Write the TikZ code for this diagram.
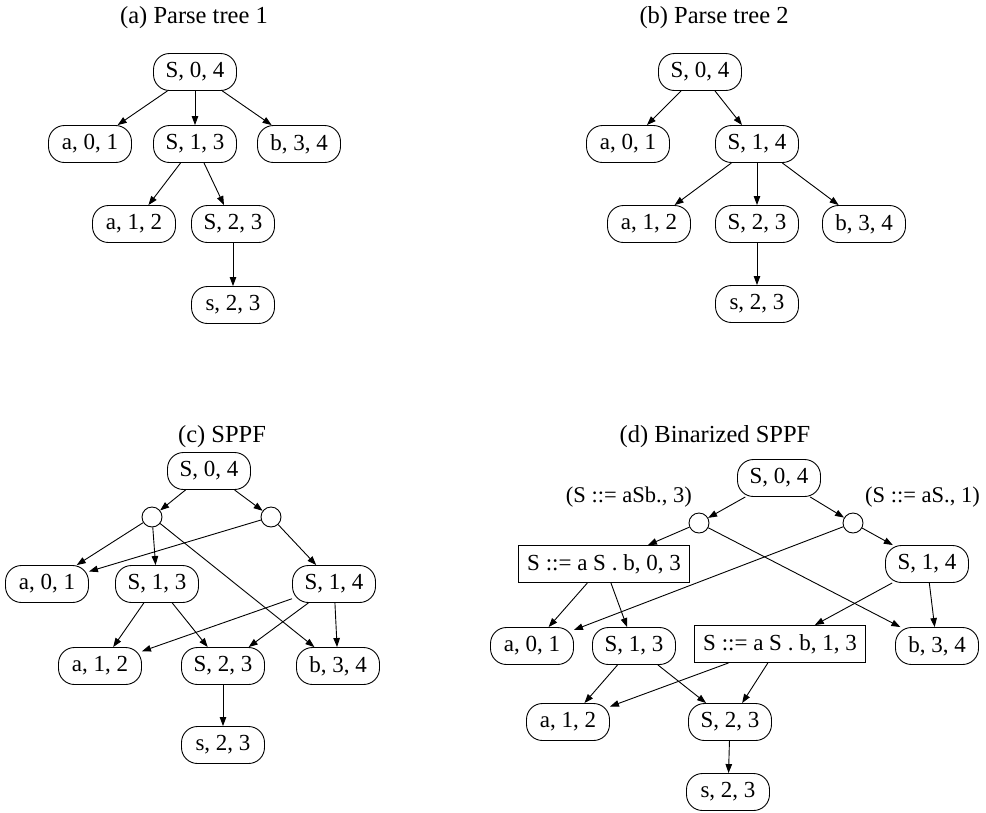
\documentclass[tikz,border=0pt]{standalone}
\usepackage{fontspec}
\setmainfont{Liberation Serif}
\usetikzlibrary{arrows.meta}
\tikzset{
  every node/.style={font=\fontsize{23}{27}\selectfont},
  rnode/.style={draw, rounded corners=16pt, minimum width=83pt, minimum height=37pt, inner sep=2pt, line width=0.9pt},
  bnode/.style={draw, minimum height=37pt, inner xsep=9pt, inner ysep=2pt, line width=0.9pt},
  cnode/.style={draw, circle, minimum size=20pt, inner sep=0pt, line width=0.9pt},
  ttl/.style={font=\fontsize{24.5}{28}\selectfont},
  lbl/.style={inner sep=0pt, anchor=east, font=\fontsize{22.5}{26}\selectfont},
  edge/.style={-{Triangle[length=9pt,width=6.5pt]}, line width=0.9pt},
}
\begin{document}
\begin{tikzpicture}[x=1pt,y=-1pt]
\useasboundingbox (0,0) rectangle (986,812);
% (a)
\node[ttl] (ta) at (194,18) {(a) Parse tree 1};
\node[rnode] (aS04) at (195,72) {S, 0, 4};
\node[rnode] (aa01) at (90,144) {a, 0, 1};
\node[rnode] (aS13) at (195,144) {S, 1, 3};
\node[rnode] (ab34) at (299,144) {b, 3, 4};
\node[rnode] (aa12) at (134,224) {a, 1, 2};
\node[rnode] (aS23) at (233,224) {S, 2, 3};
\node[rnode] (as23) at (233,305) {s, 2, 3};
\draw[edge] (aS04) -- (aa01);
\draw[edge] (aS04) -- (aS13);
\draw[edge] (aS04) -- (ab34);
\draw[edge] (aS13) -- (aa12);
\draw[edge] (aS13) -- (aS23);
\draw[edge] (aS23) -- (as23);
% (b)
\node[ttl] (tb) at (714,18) {(b) Parse tree 2};
\node[rnode] (bS04) at (700,72) {S, 0, 4};
\node[rnode] (ba01) at (628,144) {a, 0, 1};
\node[rnode] (bS14) at (757,144) {S, 1, 4};
\node[rnode] (ba12) at (649,224) {a, 1, 2};
\node[rnode] (bS23) at (757,224) {S, 2, 3};
\node[rnode] (bb34) at (864,224) {b, 3, 4};
\node[rnode] (bs23) at (757,304) {s, 2, 3};
\draw[edge] (bS04) -- (ba01);
\draw[edge] (bS04) -- (bS14);
\draw[edge] (bS14) -- (ba12);
\draw[edge] (bS14) -- (bS23);
\draw[edge] (bS14) -- (bb34);
\draw[edge] (bS23) -- (bs23);
% (c)
\node[ttl] (tc) at (222,437) {(c) SPPF};
\node[rnode] (cS04) at (209,471) {S, 0, 4};
\node[cnode] (cl) at (152,517) {};
\node[cnode] (cr) at (271,517) {};
\node[rnode] (ca01) at (47,584) {a, 0, 1};
\node[rnode] (cS13) at (157,584) {S, 1, 3};
\node[rnode] (cS14) at (334,584) {S, 1, 4};
\node[rnode] (ca12) at (100,666) {a, 1, 2};
\node[rnode] (cS23) at (223,666) {S, 2, 3};
\node[rnode] (cb34) at (338,666) {b, 3, 4};
\node[rnode] (cs23) at (223,745) {s, 2, 3};
\draw[edge] (cS04) -- (cl);
\draw[edge] (cS04) -- (cr);
\draw[edge] (cl) -- (ca01);
\draw[edge] (cl) -- (cS13);
\draw[edge] (cl) -- (cb34);
\draw[edge] (cr) -- (ca01);
\draw[edge] (cr) -- (cS14);
\draw[edge] (cS13) -- (ca12);
\draw[edge] (cS13) -- (cS23);
\draw[edge] (cS14) -- (ca12);
\draw[edge] (cS14) -- (cS23);
\draw[edge] (cS14) -- (cb34);
\draw[edge] (cS23) -- (cs23);
% (d)
\node[ttl] (td) at (715,437) {(d) Binarized SPPF};
\node[rnode] (dS04) at (779,478) {S, 0, 4};
\node[lbl] (dll) at (692,497) {(S ::= aSb., 3)};
\node[lbl] (drl) at (980,497) {(S ::= aS., 1)};
\node[cnode] (dl) at (699,523) {};
\node[cnode] (dr) at (853,523) {};
\node[bnode] (dR03) at (604,564) {S ::= a S . b, 0, 3};
\node[rnode] (dS14) at (927,564) {S, 1, 4};
\node[rnode] (da01) at (532,646) {a, 0, 1};
\node[rnode] (dS13) at (634,646) {S, 1, 3};
\node[bnode] (dR13) at (780,644) {S ::= a S . b, 1, 3};
\node[rnode] (db34) at (937,646) {b, 3, 4};
\node[rnode] (da12) at (568,722) {a, 1, 2};
\node[rnode] (dS23) at (730,722) {S, 2, 3};
\node[rnode] (ds23) at (728,792) {s, 2, 3};
\draw[edge] (dS04) -- (dl);
\draw[edge] (dS04) -- (dr);
\draw[edge] (dl) -- (dR03);
\draw[edge] (dl) -- (db34);
\draw[edge] (dr) -- (da01);
\draw[edge] (dr) -- (dS14);
\draw[edge] (dR03) -- (da01);
\draw[edge] (dR03) -- (dS13);
\draw[edge] (dS14) -- (dR13);
\draw[edge] (dS14) -- (db34);
\draw[edge] (dS13) -- (da12);
\draw[edge] (dS13) -- (dS23);
\draw[edge] (dR13) -- (da12);
\draw[edge] (dR13) -- (dS23);
\draw[edge] (dS23) -- (ds23);
\end{tikzpicture}
\end{document}
